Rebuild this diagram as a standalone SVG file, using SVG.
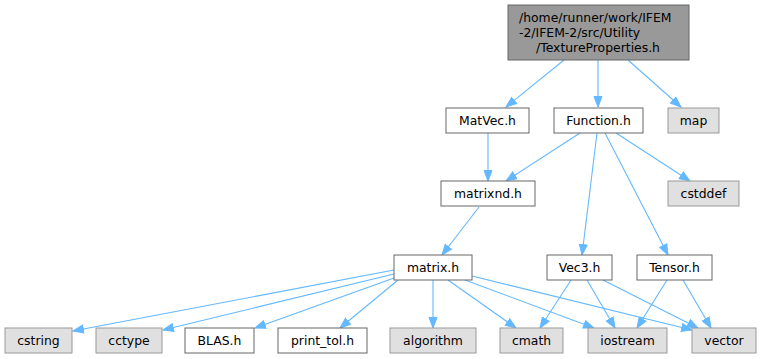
<svg xmlns="http://www.w3.org/2000/svg" width="761" height="359" viewBox="0 0 761 359">
<style>
text{font-family:"DejaVu Sans","Liberation Sans",sans-serif;font-size:12.4px;fill:#000}
.n rect{fill:#fff;stroke:#666;stroke-width:1}
.g rect{fill:#e0e0e0;stroke:#999;stroke-width:1}
.m rect{fill:#999;stroke:#666;stroke-width:1}
.c text{text-anchor:middle}
#edges line{stroke:#63b8ff;stroke-width:1.1;marker-end:url(#a)}
</style>
<defs>
<marker id="a" markerWidth="12" markerHeight="10" refX="11" refY="5" orient="auto" markerUnits="userSpaceOnUse">
<path d="M0.5,1 L11,5 L0.5,9 Z" fill="#63b8ff" stroke="#63b8ff" stroke-width="1"/>
</marker>
</defs>
<g id="edges">
<line x1="564" y1="60" x2="506" y2="107"/>
<line x1="598" y1="60" x2="598" y2="107"/>
<line x1="628" y1="60" x2="681" y2="107"/>
<line x1="488" y1="133" x2="488" y2="181"/>
<line x1="580" y1="133" x2="506" y2="181"/>
<line x1="616" y1="133" x2="690" y2="181"/>
<line x1="597" y1="133" x2="582" y2="255"/>
<line x1="605" y1="133" x2="668" y2="255"/>
<line x1="479" y1="207" x2="442" y2="255"/>
<line x1="394" y1="270" x2="73" y2="331"/>
<line x1="394" y1="274" x2="163" y2="330"/>
<line x1="394" y1="278" x2="255" y2="328"/>
<line x1="398" y1="280" x2="340" y2="328"/>
<line x1="433" y1="280" x2="433" y2="328"/>
<line x1="448" y1="280" x2="516" y2="328"/>
<line x1="465" y1="280" x2="594" y2="328"/>
<line x1="472" y1="276" x2="692" y2="330"/>
<line x1="571" y1="280" x2="540" y2="328"/>
<line x1="587" y1="280" x2="615" y2="328"/>
<line x1="603" y1="280" x2="698" y2="328"/>
<line x1="667" y1="280" x2="637" y2="328"/>
<line x1="683" y1="280" x2="711" y2="328"/>
</g>
<g id="node1" class="m"><rect x="508" y="5" width="181" height="55"/>
<text x="519" y="22">/home/runner/work/IFEM</text>
<text x="519" y="37">-2/IFEM-2/src/Utility</text>
<text x="598" y="52" text-anchor="middle">/TextureProperties.h</text></g>
<g id="node2" class="n c"><rect x="446" y="108" width="83" height="25"/><text x="487.5" y="125">MatVec.h</text></g>
<g id="node3" class="n c"><rect x="554" y="108" width="89" height="25"/><text x="598.5" y="125">Function.h</text></g>
<g id="node4" class="g c"><rect x="668" y="108" width="51" height="25"/><text x="693.5" y="125">map</text></g>
<g id="node5" class="n c"><rect x="441" y="181" width="94" height="25"/><text x="488" y="198">matrixnd.h</text></g>
<g id="node6" class="g c"><rect x="668" y="181" width="71" height="25"/><text x="703.5" y="198">cstddef</text></g>
<g id="node7" class="n c"><rect x="394" y="255" width="78" height="25"/><text x="433" y="272">matrix.h</text></g>
<g id="node8" class="n c"><rect x="547" y="255" width="65" height="25"/><text x="579.5" y="272">Vec3.h</text></g>
<g id="node9" class="n c"><rect x="637" y="255" width="75" height="25"/><text x="674.5" y="272">Tensor.h</text></g>
<g id="node10" class="g c"><rect x="5" y="328" width="67" height="25"/><text x="38.5" y="345">cstring</text></g>
<g id="node11" class="g c"><rect x="96" y="328" width="66" height="25"/><text x="129" y="345">cctype</text></g>
<g id="node12" class="n c"><rect x="185" y="328" width="69" height="25"/><text x="219.5" y="345">BLAS.h</text></g>
<g id="node13" class="n c"><rect x="278" y="328" width="89" height="25"/><text x="322.5" y="345">print_tol.h</text></g>
<g id="node14" class="g c"><rect x="390" y="328" width="86" height="25"/><text x="433" y="345">algorithm</text></g>
<g id="node15" class="g c"><rect x="500" y="328" width="63" height="25"/><text x="531.5" y="345">cmath</text></g>
<g id="node16" class="g c"><rect x="588" y="328" width="79" height="25"/><text x="627.5" y="345">iostream</text></g>
<g id="node17" class="g c"><rect x="692" y="328" width="64" height="25"/><text x="724" y="345">vector</text></g>
</svg>
